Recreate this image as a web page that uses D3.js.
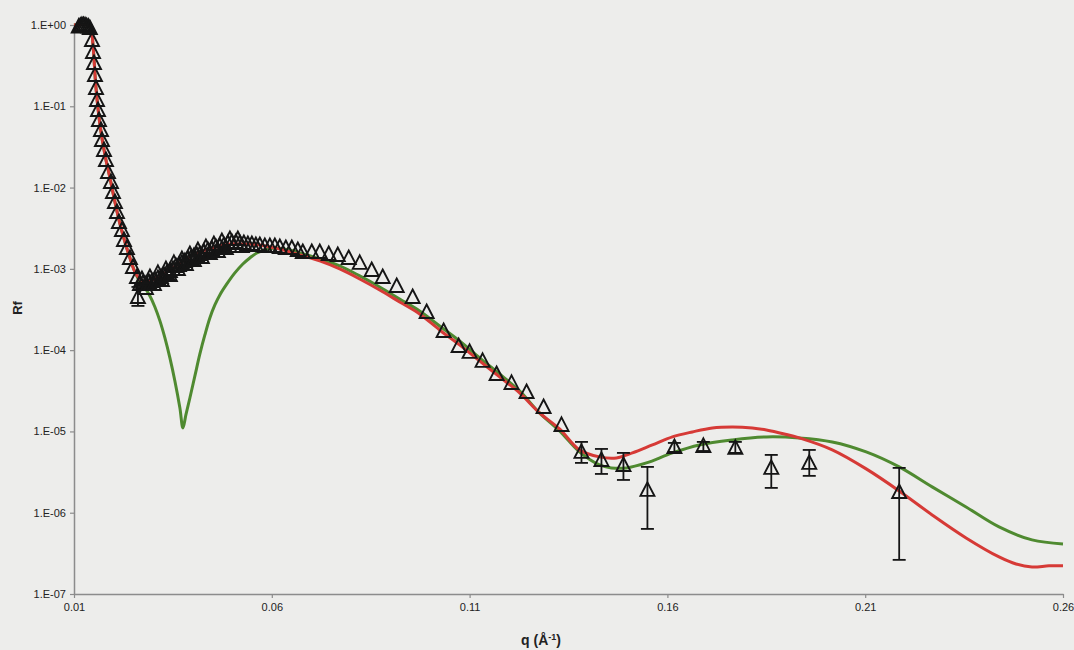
<!DOCTYPE html>
<html>
<head>
<meta charset="utf-8">
<script src="https://cdn.jsdelivr.net/npm/d3@7"></script>
<style>
  html, body { margin: 0; padding: 0; background: #ededeb; }
  svg { display: block; }
  text { font-family: "Liberation Sans", Arial, sans-serif; fill: #222; }
</style>
</head>
<body>
<svg id="chart" width="1074" height="650"></svg>
<script>
// ---------- data ----------
const qTicks = [0.01, 0.06, 0.11, 0.16, 0.21, 0.26];
const qTickLabels = ["0.01", "0.06", "0.11", "0.16", "0.21", "0.26"];
const rTicks = [1, 1e-1, 1e-2, 1e-3, 1e-4, 1e-5, 1e-6, 1e-7];
const rTickLabels = ["1.E+00", "1.E-01", "1.E-02", "1.E-03", "1.E-04", "1.E-05", "1.E-06", "1.E-07"];

// measured reflectivity (triangles)
const dataQ = [
  0.0112, 0.0116, 0.0120, 0.0124, 0.0128, 0.0132, 0.0136, 0.0140,
  0.01455, 0.0148, 0.01505, 0.0153, 0.01556, 0.01581, 0.01606, 0.01631, 0.01682, 0.01707,
  0.01758, 0.01808, 0.01859, 0.01934, 0.01985, 0.02035, 0.02086, 0.02136, 0.02212, 0.02263,
  0.02338, 0.02414, 0.0249, 0.02591, 0.02616,
  0.02667, 0.02742, 0.02818, 0.02894, 0.0297, 0.03045, 0.03121, 0.03197, 0.03273, 0.03348,
  0.03424, 0.035, 0.03576, 0.03652, 0.03727, 0.03803, 0.03879, 0.03955, 0.0403, 0.04106,
  0.04182, 0.04283, 0.04384, 0.04485, 0.04586, 0.04687, 0.04788, 0.04889, 0.0499, 0.05091,
  0.05192, 0.05293, 0.05394, 0.05495, 0.05596, 0.05697, 0.05823, 0.0595, 0.06076, 0.06202,
  0.06354, 0.06505, 0.06657, 0.06783, 0.0701, 0.07212, 0.07439, 0.07667, 0.07944, 0.08222,
  0.08525, 0.08803, 0.09157, 0.0956, 0.09914, 0.10343, 0.10722, 0.11, 0.11328, 0.11682,
  0.1206, 0.1244, 0.1287, 0.13323, 0.13828, 0.14333, 0.14889, 0.15495, 0.16177, 0.16909,
  0.17717, 0.18626, 0.19586, 0.21859,
  // interleaved scattered points of the dense band
  0.02717, 0.02818, 0.02919, 0.0302, 0.03121, 0.03222, 0.03323, 0.03424, 0.03525, 0.03626,
  0.03727, 0.03828, 0.03929, 0.0403, 0.04131, 0.04232, 0.04333, 0.04434, 0.04535, 0.04636,
  0.04737, 0.04838, 0.0494, 0.0504, 0.05141, 0.05242
];
const dataR = [
  0.96, 0.98, 1.0, 1.0, 0.99, 0.97, 0.96, 0.92,
  0.654, 0.466, 0.341, 0.243, 0.168, 0.1195, 0.090, 0.0679, 0.0511, 0.0385,
  0.0290, 0.0218, 0.01555, 0.01172, 0.00883, 0.00665, 0.00501, 0.00377, 0.00301, 0.002267,
  0.001807, 0.001361, 0.001055, 7.95e-4, 4.51e-4,
  6.52e-4, 6.71e-4, 6.52e-4, 6.90e-4, 7.10e-4, 7.30e-4, 7.73e-4, 7.95e-4, 8.41e-4, 8.91e-4,
  9.42e-4, 9.97e-4, 1.086e-3, 1.117e-3, 1.183e-3, 1.251e-3, 1.324e-3, 1.361e-3, 1.441e-3, 1.482e-3,
  1.525e-3, 1.614e-3, 1.707e-3, 1.756e-3, 1.858e-3, 1.912e-3, 1.967e-3, 2.082e-3, 2.142e-3, 2.142e-3,
  2.082e-3, 2.082e-3, 2.024e-3, 2.024e-3, 1.967e-3, 1.967e-3, 1.912e-3, 1.912e-3, 1.912e-3, 1.858e-3,
  1.807e-3, 1.807e-3, 1.707e-3, 1.614e-3, 1.614e-3, 1.614e-3, 1.525e-3, 1.482e-3, 1.361e-3, 1.183e-3,
  9.69e-4, 7.95e-4, 6.16e-4, 4.51e-4, 2.95e-4, 1.72e-4, 1.126e-4, 9.51e-5, 7.37e-5, 5.09e-5,
  3.95e-5, 3.06e-5, 2.00e-5, 1.202e-5, 5.60e-6, 4.46e-6, 3.87e-6, 1.91e-6, 6.44e-6, 6.63e-6,
  6.27e-6, 3.56e-6, 4.10e-6, 1.80e-6,
  7.51e-4, 5.82e-4, 7.95e-4, 6.52e-4, 8.91e-4, 7.30e-4, 9.97e-4, 8.41e-4, 1.183e-3, 9.97e-4,
  1.324e-3, 1.149e-3, 1.525e-3, 1.287e-3, 1.707e-3, 1.400e-3, 1.858e-3, 1.570e-3, 2.024e-3, 1.660e-3,
  2.204e-3, 1.807e-3, 2.333e-3, 1.912e-3, 2.333e-3, 1.912e-3
];
// error bars (only where visible): q, low, high
const errQ    = [0.02616, 0.13828, 0.14333, 0.14889, 0.15495, 0.16177, 0.16909, 0.17717, 0.18626, 0.19586, 0.21859];
const errLow  = [3.50e-4, 4.10e-6, 3.00e-6, 2.53e-6, 6.32e-7, 5.60e-6, 5.75e-6, 5.44e-6, 2.02e-6, 2.84e-6, 2.63e-7];
const errHigh = [5.99e-4, 7.43e-6, 6.09e-6, 5.44e-6, 3.66e-6, 7.22e-6, 7.43e-6, 7.43e-6, 5.14e-6, 5.92e-6, 3.56e-6];

// fit 1 (red)
const redQ = [
  0.0100, 0.01354, 0.01429, 0.0148, 0.01556, 0.01657, 0.01783, 0.01909, 0.02035, 0.02162,
  0.02288, 0.02414, 0.0254, 0.02667, 0.02793, 0.02919, 0.03172, 0.03424, 0.03677, 0.03929,
  0.04182, 0.04434, 0.04687, 0.0494, 0.05192, 0.05444, 0.05697, 0.0595, 0.06202, 0.06455,
  0.06707, 0.07212, 0.07717, 0.08222, 0.08727, 0.09232, 0.09737, 0.10242, 0.10747, 0.11253,
  0.11758, 0.12263, 0.12768, 0.13273, 0.13778, 0.14283, 0.14712, 0.15116, 0.15621, 0.16126,
  0.16631, 0.17136, 0.17641, 0.18146, 0.185, 0.18955, 0.19333, 0.20167, 0.21025, 0.21859,
  0.22692, 0.2355, 0.24384, 0.24813, 0.25217, 0.25646, 0.26
];
const redR = [
  1.0, 1.0, 0.919, 0.568, 0.168, 0.0589, 0.0252, 0.01313, 0.00665, 0.00357,
  0.002142, 0.001361, 9.16e-4, 7.51e-4, 6.90e-4, 7.10e-4, 8.18e-4, 9.69e-4, 1.183e-3, 1.400e-3,
  1.614e-3, 1.756e-3, 1.912e-3, 2.024e-3, 2.024e-3, 2.024e-3, 1.967e-3, 1.858e-3, 1.756e-3, 1.614e-3,
  1.482e-3, 1.251e-3, 9.97e-4, 7.51e-4, 5.50e-4, 3.92e-4, 2.79e-4, 1.772e-4, 1.159e-4, 7.37e-5,
  4.68e-5, 2.98e-5, 1.690e-5, 1.074e-5, 5.93e-6, 4.86e-6, 4.72e-6, 5.44e-6, 6.82e-6, 8.56e-6,
  9.86e-6, 1.104e-5, 1.135e-5, 1.104e-5, 1.043e-5, 9.31e-6, 8.32e-6, 5.93e-6, 3.46e-6, 1.854e-6,
  9.40e-7, 4.90e-7, 2.86e-7, 2.34e-7, 2.15e-7, 2.22e-7, 2.22e-7
];

// fit 2 (green)
const greenQ = [
  0.0100, 0.01354, 0.01429, 0.0148, 0.01556, 0.01657, 0.01783, 0.01909, 0.02035, 0.02162,
  0.02288, 0.02414, 0.0254, 0.02667, 0.02793, 0.02919, 0.03045, 0.03172, 0.03298, 0.03424,
  0.0355, 0.03677, 0.03753, 0.03828, 0.03929, 0.04056, 0.04182, 0.04308, 0.04434, 0.04561,
  0.04687, 0.04864, 0.05066, 0.05268, 0.05444, 0.05621, 0.05823, 0.06076, 0.06455, 0.06707,
  0.07212, 0.07717, 0.08222, 0.08727, 0.09232, 0.09737, 0.10242, 0.10747, 0.11253, 0.11758,
  0.12263, 0.12768, 0.13273, 0.13778, 0.14283, 0.14586, 0.14965, 0.1547, 0.16126, 0.16808,
  0.17641, 0.185, 0.19333, 0.20167, 0.21025, 0.21859, 0.22692, 0.2355, 0.24384, 0.25217, 0.26
];
const greenR = [
  1.0, 1.0, 0.919, 0.568, 0.168, 0.0589, 0.0252, 0.01313, 0.00665, 0.00357,
  0.002142, 0.001361, 9.16e-4, 6.90e-4, 5.82e-4, 4.64e-4, 3.40e-4, 2.29e-4, 1.413e-4, 8.02e-5,
  4.18e-5, 1.945e-5, 1.104e-5, 1.596e-5, 2.58e-5, 4.82e-5, 8.98e-5, 1.538e-4, 2.49e-4, 3.60e-4,
  4.78e-4, 6.52e-4, 8.91e-4, 1.149e-3, 1.361e-3, 1.570e-3, 1.708e-3, 1.807e-3, 1.708e-3, 1.570e-3,
  1.324e-3, 1.086e-3, 8.18e-4, 5.99e-4, 4.26e-4, 3.03e-4, 1.985e-4, 1.298e-4, 8.02e-5, 5.09e-5,
  3.15e-5, 1.690e-5, 1.014e-5, 5.60e-6, 3.87e-6, 3.56e-6, 3.56e-6, 4.10e-6, 5.44e-6, 6.82e-6,
  7.86e-6, 8.56e-6, 8.32e-6, 7.43e-6, 5.60e-6, 3.66e-6, 2.08e-6, 1.178e-6, 6.69e-7, 4.63e-7, 4.13e-7
];

// ---------- drawing ----------
const svg = d3.select("#chart");
const x = d3.scaleLinear().domain([0.01, 0.26]).range([74, 1063]);
const y = d3.scaleLog().domain([1e-7, 1]).range([594, 25]);

// axes
const xAxis = d3.axisBottom(x).tickValues(qTicks)
  .tickFormat((d, i) => qTickLabels[i]).tickSize(4).tickSizeOuter(0).tickPadding(5);
const yAxis = d3.axisLeft(y).tickValues(rTicks)
  .tickFormat((d, i) => rTickLabels[i]).tickSize(4).tickSizeOuter(0).tickPadding(4);

const gx = svg.append("g").attr("transform", "translate(0,594)").call(xAxis);
const gy = svg.append("g").attr("transform", "translate(74,0)").call(yAxis);
[gx, gy].forEach(g => {
  g.select(".domain").attr("stroke", "#8c8c8c").attr("stroke-width", 1.5);
  g.selectAll(".tick line").attr("stroke", "#8c8c8c").attr("stroke-width", 1.2);
  g.selectAll(".tick text").style("font-family", "'Liberation Sans', Arial, sans-serif")
    .style("font-size", "11px").attr("fill", "#222");
});

// axis titles
svg.append("text")
  .attr("transform", "translate(22,308) rotate(-90)")
  .attr("text-anchor", "middle")
  .style("font-weight", "bold").style("font-size", "13px")
  .text("Rf");
const xt = svg.append("text")
  .attr("x", 541).attr("y", 645)
  .attr("text-anchor", "middle")
  .style("font-weight", "bold").style("font-size", "14px");
xt.append("tspan").text("q (Å");
xt.append("tspan").attr("dy", -5).style("font-size", "9px").text("-1");
xt.append("tspan").attr("dy", 5).text(")");

// fit curves
const line = d3.line().x(d => x(d[0])).y(d => y(d[1])).curve(d3.curveCatmullRom.alpha(0.5));
svg.append("path")
  .datum(greenQ.map((q, i) => [q, greenR[i]]))
  .attr("d", line).attr("fill", "none")
  .attr("stroke", "#4f8a30").attr("stroke-width", 3);
svg.append("path")
  .datum(redQ.map((q, i) => [q, redR[i]]))
  .attr("d", line).attr("fill", "none")
  .attr("stroke", "#d63a36").attr("stroke-width", 3);

// error bars
const eg = svg.append("g").attr("stroke", "#151515").attr("stroke-width", 1.8).attr("fill", "none");
errQ.forEach((q, i) => {
  const cx = x(q), y1 = y(errLow[i]), y2 = y(errHigh[i]);
  eg.append("line").attr("x1", cx).attr("x2", cx).attr("y1", y1).attr("y2", y2);
  eg.append("line").attr("x1", cx - 6.5).attr("x2", cx + 6.5).attr("y1", y1).attr("y2", y1);
  eg.append("line").attr("x1", cx - 6.5).attr("x2", cx + 6.5).attr("y1", y2).attr("y2", y2);
});

// data markers: hollow triangles
svg.append("g").selectAll("path")
  .data(dataQ.map((q, i) => [q, dataR[i]]))
  .join("path")
  .attr("transform", d => `translate(${x(d[0])},${y(d[1])})`)
  .attr("d", "M0,-7.5L7,6L-7,6Z")
  .attr("fill", "none")
  .attr("stroke", "#151515")
  .attr("stroke-width", 1.9)
  .attr("stroke-linejoin", "miter");
</script>
</body>
</html>
